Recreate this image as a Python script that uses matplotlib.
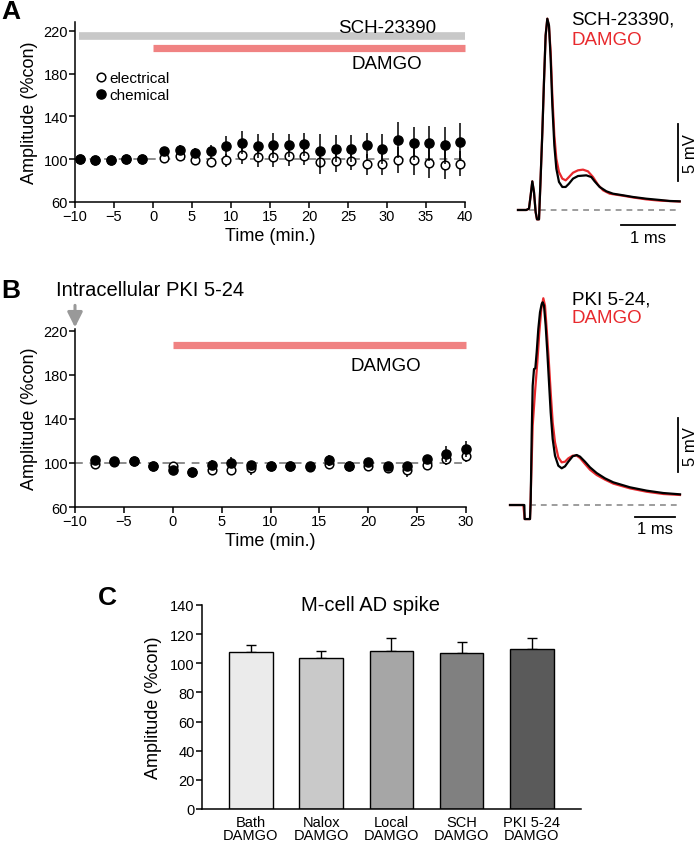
import matplotlib
matplotlib.use("Agg")
import matplotlib.pyplot as plt
from matplotlib.lines import Line2D

plt.rcParams['font.family'] = ['Liberation Sans', 'DejaVu Sans']

# ---------------- Panel A data ----------------
tA = [-9.4, -7.4, -5.4, -3.4, -1.4, 1.4, 3.4, 5.4, 7.4, 9.4, 11.4, 13.4, 15.4, 17.4,
      19.4, 21.4, 23.4, 25.4, 27.4, 29.4, 31.4, 33.4, 35.4, 37.4, 39.4]
chemA = [100.6, 99, 99, 100.3, 100.6, 108, 109, 106, 107.5, 112, 115.6, 112.5, 113, 113,
         113.8, 108, 110, 110, 113, 110, 118, 115, 115, 113, 116]
chemA_err = [1, 1, 1, 1, 1, 3, 4, 4.5, 6, 10, 11, 11, 11.5, 10.5, 10.5, 16, 13, 13, 12, 14,
             17, 15.5, 16.5, 17, 18]
elecA = [100.6, 99, 99, 100.3, 100.6, 101.5, 103, 99, 97, 99, 103.5, 102, 102, 103, 103,
         97, 98.5, 98.5, 95.3, 96, 99, 99, 96.5, 95, 96]
elecA_err = [1, 1, 1, 1, 1, 2, 3, 3, 3, 6, 7.5, 9, 9, 9, 8, 11, 10, 9, 10, 11, 12, 13.5, 14,
             13.5, 12]
xticksA = [-10, -5, 0, 5, 10, 15, 20, 25, 30, 35, 40]
sch_period = [-9.5, 40]
damgoA_period = [0, 40]

# ---------------- Panel B data ----------------
tB = [-8, -6, -4, -2, 0, 2, 4, 6, 8, 10, 12, 14, 16, 18, 20, 22, 24, 26, 28, 30]
chemB = [102.3, 101.5, 101.8, 97, 94, 92, 98.3, 100.3, 98, 97, 97.4, 97.4, 102.3, 97, 101,
         97.4, 97, 104, 108, 112.8]
chemB_err = [1.5, 1, 1.5, 1, 1, 1, 4, 5, 4, 1, 1, 1, 5, 1, 1.5, 2, 2, 2, 7, 7]
elecB = [99, 101, 102, 97, 97.4, 92, 93.3, 94, 95.3, 97, 97, 96, 99, 97, 97, 95.3, 93.6,
         98.5, 103.5, 106.7]
elecB_err = [1, 1, 1, 1, 1, 1, 2, 2, 6, 1, 1, 3, 2, 1, 2, 2, 6, 2, 5, 6]
xticksB = [-10, -5, 0, 5, 10, 15, 20, 25, 30]
damgoB_period = [0, 30]
yticks_AB = [60, 100, 140, 180, 220]

# ---------------- Traces ----------------
trA_t = [0, 0.154, 0.204, 0.235, 0.265, 0.296, 0.327, 0.352, 0.389, 0.414, 0.451, 0.481,
         0.512, 0.543, 0.574, 0.605, 0.636, 0.673, 0.710, 0.759, 0.821, 0.883, 0.944, 1.019,
         1.111, 1.265, 1.358, 1.420, 1.512, 1.636, 1.759, 1.944, 2.130, 2.377, 2.623, 2.809,
         2.994]
trA_black = [0, 0, 0.12, 1.29, 2.51, 1.58, -0.18, -0.82, -0.82, 2.16, 6.84, 11.23, 15.32,
             16.78, 16.2, 13.27, 9.18, 5.67, 3.63, 2.46, 2.02, 2.02, 2.31, 2.75, 2.98, 3.04,
             2.89, 2.51, 2.02, 1.64, 1.43, 1.29, 1.14, 0.99, 0.88, 0.79, 0.76]
trA_red_t = [0, 0.154, 0.204, 0.235, 0.265, 0.296, 0.327, 0.352, 0.389, 0.414, 0.451, 0.481,
             0.512, 0.543, 0.574, 0.605, 0.636, 0.673, 0.710, 0.759, 0.821, 0.883, 0.944,
             1.019, 1.111, 1.204, 1.296, 1.389, 1.481, 1.574, 1.698, 1.944, 2.130, 2.377,
             2.623, 2.809, 2.994]
trA_red = [0, 0, 0.12, 1.29, 2.51, 1.58, -0.18, -0.82, -0.82, 2.16, 6.84, 11.23, 15.32, 16.78,
           16.1, 13.86, 10.06, 6.55, 4.50, 3.33, 2.75, 2.60, 2.89, 3.27, 3.48, 3.54, 3.39,
           2.89, 2.22, 1.73, 1.43, 1.25, 1.10, 0.93, 0.82, 0.78, 0.74]

trB_t = [0, 0.333, 0.358, 0.367, 0.5, 0.517, 0.542, 0.567, 0.6, 0.633, 0.667, 0.708, 0.75,
         0.792, 0.817, 0.85, 0.892, 0.933, 0.975, 1.017, 1.067, 1.125, 1.208, 1.292, 1.375,
         1.458, 1.567, 1.667, 1.75, 1.875, 2.0, 2.167, 2.375, 2.583, 3.0, 3.417, 3.833, 4.25]
trB_black = [0, 0, 0, -1.3, -1.3, 0.25, 6.42, 11.05, 12.59, 12.65, 14.14, 16.30, 17.84,
             18.61, 18.77, 18.46, 16.60, 14.14, 11.36, 8.58, 6.11, 4.57, 3.64, 3.40, 3.58,
             4.01, 4.51, 4.63, 4.48, 4.01, 3.49, 2.96, 2.47, 2.10, 1.64, 1.33, 1.11, 0.99]
trB_red_t = [0, 0.333, 0.367, 0.5, 0.525, 0.567, 0.625, 0.683, 0.733, 0.783, 0.833, 0.875,
             0.917, 0.967, 1.017, 1.067, 1.125, 1.208, 1.292, 1.375, 1.458, 1.567, 1.667,
             1.75, 1.875, 2.0, 2.167, 2.375, 2.583, 3.0, 3.417, 3.833, 4.25]
trB_red = [0, 0, -1.3, -1.3, 1.79, 7.35, 10.43, 13.21, 15.99, 18.15, 19.14, 18.46, 16.30,
           13.52, 10.43, 7.65, 5.80, 4.41, 3.95, 4.01, 4.32, 4.57, 4.57, 4.35, 3.80, 3.27,
           2.78, 2.35, 1.98, 1.54, 1.23, 1.02, 0.93]

# ---------------- Panel C data ----------------
labelsC = ["Bath\nDAMGO", "Nalox\nDAMGO", "Local\nDAMGO", "SCH\nDAMGO", "PKI 5-24\nDAMGO"]
valsC = [107.5, 103.4, 108.4, 107.1, 109.8]
errC = [5, 5, 9.2, 7.3, 7.8]
colorsC = ['#ebebeb', '#c9c9c9', '#a6a6a6', '#808080', '#5a5a5a']
yticksC = [0, 20, 40, 60, 80, 100, 120, 140]

RED_BAR = '#f08282'
GRAY_BAR = '#c8c8c8'
TRACE_RED = '#e8292d'
DASH_GRAY = '#8c8c8c'

W, H = 698, 845
fig = plt.figure(figsize=(W / 100, H / 100), dpi=100)


def px_axes(left, top, right, bottom):
    return fig.add_axes([left / W, 1 - bottom / H, (right - left) / W, (bottom - top) / H])


def style_time_axis(ax):
    for s in ['top', 'right']:
        ax.spines[s].set_visible(False)
    for s in ['left', 'bottom']:
        ax.spines[s].set_linewidth(1.1)
    ax.tick_params(direction='out', length=4, width=1.1, labelsize=10.5, pad=1)


def draw_time_panel(ax, t, chem, chem_err, elec, elec_err):
    ax.axhline(100, color=DASH_GRAY, lw=1.4, dashes=(4, 3.5), zorder=1)
    e1 = ax.errorbar(t, elec, yerr=elec_err, fmt='o', ms=6.2, mfc='white', mec='black',
                     mew=1.1, ecolor='black', elinewidth=1.1, capsize=0, zorder=3)
    e2 = ax.errorbar(t, chem, yerr=chem_err, fmt='o', ms=6.6, mfc='black', mec='black',
                     ecolor='black', elinewidth=1.1, capsize=0, zorder=4)
    for cont in (e1, e2):
        for art in cont.get_children():
            art.set_clip_on(False)
    ax.set_yticks(yticks_AB)
    ax.set_ylabel('Amplitude (%con)', fontsize=13, labelpad=4)
    ax.set_xlabel('Time (min.)', fontsize=13, labelpad=3)


# ---------------- Panel A ----------------
axA = px_axes(75, 23.4, 465, 203)
style_time_axis(axA)
draw_time_panel(axA, tA, chemA, chemA_err, elecA, elecA_err)
axA.set_xlim(-10, 40)
axA.set_ylim(60, 228)
axA.set_xticks(xticksA)
axA.plot(sch_period, [215.5, 215.5], color=GRAY_BAR, lw=5.5, solid_capstyle='butt',
         clip_on=False, zorder=2)
axA.plot(damgoA_period, [204, 204], color=RED_BAR, lw=5.2, solid_capstyle='butt',
         clip_on=False, zorder=2)
axA.text(30, 223.5, 'SCH-23390', fontsize=13.5, ha='center', va='center')
axA.text(30, 189.5, 'DAMGO', fontsize=13.5, ha='center', va='center')
h_e = Line2D([], [], marker='o', ls='none', ms=6.2, mfc='white', mec='black', mew=1.1)
h_c = Line2D([], [], marker='o', ls='none', ms=6.6, mfc='black', mec='black')
axA.legend([h_e, h_c], ['electrical', 'chemical'], loc='upper left',
           bbox_to_anchor=(0.055, 0.73), frameon=False, fontsize=11, handlelength=0.6,
           handletextpad=0.25, labelspacing=0.2, borderpad=0, borderaxespad=0)

# ---------------- Panel B ----------------
axB = px_axes(75, 329.5, 466, 508)
style_time_axis(axB)
draw_time_panel(axB, tB, chemB, chemB_err, elecB, elecB_err)
axB.set_xlim(-10, 30)
axB.set_ylim(60, 222)
axB.set_xticks(xticksB)
axB.plot(damgoB_period, [207, 207], color=RED_BAR, lw=5.2, solid_capstyle='butt',
         clip_on=False, zorder=2)
axB.text(21.8, 188.5, 'DAMGO', fontsize=13.5, ha='center', va='center')
axB.annotate('', xy=(-10, 223), xytext=(-10, 243),
             arrowprops=dict(arrowstyle='-|>,head_length=0.9,head_width=0.45',
                             color='#999999', lw=2.2, shrinkA=0, shrinkB=0),
             annotation_clip=False)
fig.text(56 / W, 1 - 291 / H, 'Intracellular PKI 5-24', fontsize=14.5, ha='left',
         va='center')

# ---------------- Trace A ----------------
axTA = px_axes(500, 0, 698, 260)
axTA.set_xlim(-0.333, 3.333)
axTA.set_ylim(-4.30, 18.51)
axTA.axis('off')
axTA.plot([0.2, 3.0], [0, 0], color=DASH_GRAY, lw=1.2, dashes=(3.5, 3))
axTA.plot(trA_red_t, trA_red, color=TRACE_RED, lw=1.6, solid_joinstyle='round')
axTA.plot(trA_t, trA_black, color='black', lw=1.6, solid_joinstyle='round')
axTA.plot([2.963, 2.963], [2.54, 7.54], color='black', lw=1.3)
axTA.plot([1.907, 2.907], [-1.32, -1.32], color='black', lw=1.3)
axTA.text(2.41, -2.45, '1 ms', fontsize=12, ha='center', va='center')
axTA.text(3.2, 5.04, '5 mV', fontsize=12, ha='center', va='center', rotation=90)
axTA.text(0.99, 16.75, 'SCH-23390,', fontsize=13.5, ha='left', va='center')
axTA.text(0.99, 15.0, 'DAMGO', fontsize=13.5, ha='left', va='center', color=TRACE_RED)

# ---------------- Trace B ----------------
axTB = px_axes(500, 270, 698, 530)
axTB.set_xlim(-0.25, 4.7)
axTB.set_ylim(-2.22, 21.85)
axTB.axis('off')
axTB.plot([0.5, 4.25], [0, 0], color=DASH_GRAY, lw=1.2, dashes=(3.5, 3))
axTB.plot(trB_red_t, trB_red, color=TRACE_RED, lw=1.6, solid_joinstyle='round')
axTB.plot(trB_t, trB_black, color='black', lw=1.6, solid_joinstyle='round')
axTB.plot([4.2, 4.2], [3.05, 8.05], color='black', lw=1.3)
axTB.plot([3.125, 4.125], [-1.11, -1.11], color='black', lw=1.3)
axTB.text(3.625, -2.2, '1 ms', fontsize=12, ha='center', va='center')
axTB.text(4.52, 5.5, '5 mV', fontsize=12, ha='center', va='center', rotation=90)
axTB.text(1.54, 19.1, 'PKI 5-24,', fontsize=13.5, ha='left', va='center')
axTB.text(1.54, 17.35, 'DAMGO', fontsize=13.5, ha='left', va='center', color=TRACE_RED)

# ---------------- Panel C ----------------
axC = px_axes(201.7, 606, 581, 810)
xC = list(range(len(valsC)))
axC.bar(xC, valsC, width=0.62, color=colorsC, edgecolor='black', linewidth=1.0, zorder=2)
axC.errorbar(xC, valsC, yerr=[[0] * len(errC), errC], fmt='none', ecolor='black',
             elinewidth=1.0, capsize=3.5, capthick=1.0, zorder=1)
axC.set_xlim(-0.7, 4.7)
axC.set_ylim(0, 140)
axC.set_yticks(yticksC)
axC.set_xticks(xC)
axC.set_xticklabels(labelsC, fontsize=10.5, linespacing=0.95)
for s in ['top', 'right']:
    axC.spines[s].set_visible(False)
for s in ['left', 'bottom']:
    axC.spines[s].set_linewidth(1.1)
axC.tick_params(axis='y', direction='out', length=4, width=1.1, labelsize=10.5, pad=1)
axC.tick_params(axis='x', length=0, pad=4)
axC.set_ylabel('Amplitude (%con)', fontsize=13, labelpad=6)
axC.text(1.71, 140, 'M-cell AD spike', fontsize=14.5, ha='center', va='center')

# ---------------- Panel letters ----------------
fig.text(1 / W, 1 - 12 / H, 'A', fontsize=19, fontweight='bold', ha='left', va='center')
fig.text(1 / W, 1 - 291 / H, 'B', fontsize=19, fontweight='bold', ha='left', va='center')
fig.text(98 / W, 1 - 598 / H, 'C', fontsize=19, fontweight='bold', ha='left', va='center')

fig.savefig('out.png', dpi=100)
